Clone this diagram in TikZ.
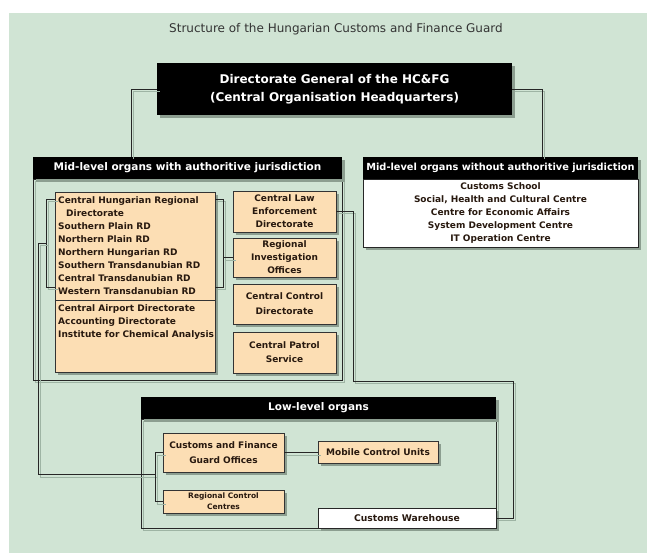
\documentclass[tikz,border=0pt]{standalone}
\usepackage{fontspec}
\setmainfont{DejaVu Sans}
\usetikzlibrary{shadows,calc}
\definecolor{bggreen}{RGB}{208,228,212}
\definecolor{peach}{RGB}{252,222,180}
\definecolor{shadowc}{RGB}{140,158,144}
\definecolor{lineshadow}{RGB}{158,180,164}
\definecolor{darktext}{RGB}{40,25,15}
\begin{document}
\begin{tikzpicture}[x=1pt,y=-1pt,
  boxbase/.style={anchor=north west, inner sep=0pt, outer sep=0pt, line width=0.8pt,
    drop shadow={shadow xshift=3pt, shadow yshift=-3pt, fill=shadowc, opacity=1}},
  blackbox/.style={boxbase, fill=black, text=white, align=center,
    font=\bfseries\fontsize{12}{18}\selectfont},
  hdr/.style={boxbase, fill=black, text=white, minimum height=22pt},
  peachbox/.style={boxbase, draw=black!80, fill=peach, text=darktext, align=center,
    font=\bfseries\fontsize{9}{13}\selectfont},
  whitebox/.style={boxbase, draw=black!85, fill=white, text=darktext, align=center,
    font=\bfseries\fontsize{9}{12.8}\selectfont},
  listtext/.style={anchor=north west, inner sep=0pt, align=left, text=darktext,
    font=\bfseries\fontsize{9}{13}\selectfont},
  framebox/.style={anchor=north west, inner sep=0pt, outer sep=0pt, draw=black!85, line width=0.8pt,
    preaction={draw=lineshadow, line width=0.8pt, transform canvas={xshift=2.5pt,yshift=-2.5pt}}},
  conn/.style={draw=black!85, line width=0.8pt,
    preaction={draw=lineshadow, line width=0.8pt, transform canvas={xshift=2.5pt,yshift=-2.5pt}}},
]
\useasboundingbox (0,0) rectangle (647,553);
\fill[bggreen] (9,13) rectangle (647,553);

\node[text=black!80, font=\fontsize{12}{14}\selectfont] (title) at (336,29)
  {Structure of the Hungarian Customs and Finance Guard};

% frames
\node[framebox, minimum width=309pt, minimum height=201pt] (frameL) at (33,179) {};
\node[framebox, minimum width=355pt, minimum height=109pt] (frameLow) at (141,419) {};

% top
\node[blackbox, minimum width=355pt, minimum height=52pt] (dg) at (157,63)
  {Directorate General of the HC\&FG\\(Central Organisation Headquarters)};

% mid-level with jurisdiction
\node[hdr, minimum width=309pt, font=\bfseries\fontsize{10.5}{12}\selectfont] (hdrL) at (33,157)
  {Mid-level organs with authoritive jurisdiction};
\node[peachbox, minimum width=160pt, minimum height=180pt] (rdl) at (55,192) {};
\node[listtext] (rdtext) at (58,196)
  {Central Hungarian Regional\\\hspace*{8pt}Directorate\\Southern Plain RD\\Northern Plain RD\\Northern Hungarian RD\\Southern Transdanubian RD\\Central Transdanubian RD\\Western Transdanubian RD};
\node[listtext] (cdtext) at (58,304)
  {Central Airport Directorate\\Accounting Directorate\\Institute for Chemical Analysis};
\draw[black!80, line width=0.8pt] ([yshift=-108pt]rdl.north west) -- ([yshift=-108pt]rdl.north east);

\node[peachbox, minimum width=103pt, minimum height=41pt] (cled) at (233,191)
  {Central Law\\Enforcement\\Directorate};
\node[peachbox, minimum width=103pt, minimum height=39pt] (rio) at (233,238)
  {Regional\\Investigation\\Offices};
\node[peachbox, minimum width=103pt, minimum height=40pt, font=\bfseries\fontsize{9}{15}\selectfont] (ccd) at (233,284)
  {Central Control\\Directorate};
\node[peachbox, minimum width=103pt, minimum height=41pt, font=\bfseries\fontsize{9}{14}\selectfont] (cps) at (233,332)
  {Central Patrol\\Service};

% mid-level without jurisdiction
\node[hdr, minimum width=275pt, font=\bfseries\fontsize{9.8}{12}\selectfont] (hdrR) at (363,157)
  {Mid-level organs without authoritive jurisdiction};
\node[whitebox, minimum width=275pt, minimum height=68pt] (other) at (363,179)
  {Customs School\\Social, Health and Cultural Centre\\Centre for Economic Affairs\\System Development Centre\\IT Operation Centre};

% low-level
\node[hdr, minimum width=355pt, font=\bfseries\fontsize{10.5}{12}\selectfont] (hdrLow) at (141,397)
  {Low-level organs};
\node[peachbox, minimum width=121pt, minimum height=39pt, font=\bfseries\fontsize{9}{15}\selectfont] (cfgo) at (163,433)
  {Customs and Finance\\Guard Offices};
\node[peachbox, minimum width=120pt, minimum height=22pt] (mcu) at (318,441)
  {Mobile Control Units};
\node[peachbox, minimum width=121pt, minimum height=23pt, font=\bfseries\fontsize{7.5}{11}\selectfont] (rcc) at (163,490)
  {Regional Control\\Centres};
\node[whitebox, minimum width=178pt, minimum height=20pt, font=\bfseries\fontsize{9.2}{11}\selectfont] (cw) at (318,508)
  {Customs Warehouse};

% connector junctions
\coordinate (jL) at (131,157);
\coordinate (jR) at (542,157);
\coordinate (lowj) at ([xshift=-8pt,yshift=-22pt]cfgo.west);
\coordinate (rj) at (513,381);

% connectors
\draw[conn] (dg.west) -| (jL);
\draw[conn] (dg.east) -| (jR);
\draw[conn] ([yshift=-7pt]rdl.north west) -- ++(-9pt,0) |- ([yshift=-95pt]rdl.north west);
\draw[conn] ([yshift=-7pt]rdl.north east) -- ++(8pt,0) |- ([yshift=-95pt]rdl.north east);
\draw[conn] (rio.west) -- ++(-10pt,0);
\draw[conn] ([xshift=-9pt,yshift=-51pt]rdl.north west) -- ++(-8pt,0) |- (lowj);
\draw[conn] (cfgo.west) -- ++(-8pt,0) |- (rcc.west);
\draw[conn] (cfgo.east) -- (cfgo.east -| mcu.west);
\draw[conn] ([yshift=-20pt]cled.north east) -- ++(17pt,0) |- (rj) |- (cw.east);
\end{tikzpicture}
\end{document}
